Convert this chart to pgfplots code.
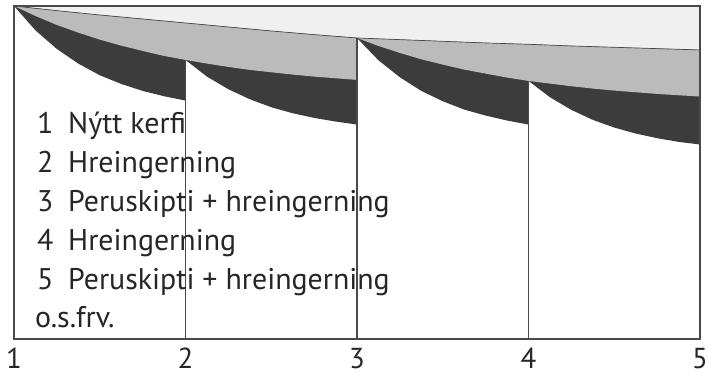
\documentclass[border=0pt]{standalone}
\usepackage{fontspec}
\setmainfont{PT Sans}
\usepackage{pgfplots}
\pgfplotsset{compat=1.18}
\definecolor{lightband}{HTML}{F0F0F0}
\definecolor{midband}{HTML}{BBBBBB}
\definecolor{darkband}{HTML}{3C3C3C}
\definecolor{frame}{HTML}{4A4A4A}
\begin{document}
\begin{tikzpicture}
\begin{axis}[
  scale only axis,
  width=686bp, height=333bp,
  xmin=1, xmax=5, ymin=0, ymax=100,
  axis on top,
  axis line style={draw=frame, line width=1.2bp},
  ytick=\empty,
  xtick={1,2,3,4,5},
  xticklabels={1,2,3,4,5},
  major tick length=0pt,
  xticklabel style={font=\fontsize{29}{34}\selectfont, text=black!85, anchor=north, inner sep=0pt, text depth=0pt, yshift=-9bp},
]
% light band: box top down to the top line
\addplot[fill=lightband, draw=none] coordinates {
 (1,100) (1.25,98.6) (1.5,97.3) (1.75,96.1) (2,94.9) (2.25,93.7) (2.5,92.5) (2.75,91.4)
 (3,90.4) (3.25,89.9) (3.5,89.4) (3.75,88.9) (4,88.5) (4.25,88.0) (4.5,87.6) (4.75,87.2) (5,86.8)
 (5,100)} -- cycle;
% dark band: top line down to dark (sawtooth) bottom
\addplot[fill=darkband, draw=none] coordinates {
 (1,100) (1.25,98.6) (1.5,97.3) (1.75,96.1) (2,94.9) (2.25,93.7) (2.5,92.5) (2.75,91.4)
 (3,90.4) (3.25,89.9) (3.5,89.4) (3.75,88.9) (4,88.5) (4.25,88.0) (4.5,87.6) (4.75,87.2) (5,86.8)
 (5,58.4) (4.875,59.2) (4.75,60.3) (4.625,61.7) (4.5,63.5) (4.375,65.8) (4.25,68.8) (4.125,72.6) (4,77.5)
 (4,64.4) (3.875,65.6) (3.75,67.1) (3.625,68.9) (3.5,71.4) (3.375,74.5) (3.25,78.6) (3.125,83.7) (3,90.4)
 (3,64.4) (2.875,65.3) (2.75,66.4) (2.625,67.8) (2.5,69.6) (2.375,72.0) (2.25,75.0) (2.125,78.8) (2,83.8)
 (2,71.6) (1.875,72.9) (1.75,74.5) (1.625,76.6) (1.5,79.2) (1.375,82.7) (1.25,87.1) (1.125,92.7) (1,100)} -- cycle;
% medium band: top line down to medium bottom
\addplot[fill=midband, draw=none] coordinates {
 (1,100) (1.25,98.6) (1.5,97.3) (1.75,96.1) (2,94.9) (2.25,93.7) (2.5,92.5) (2.75,91.4)
 (3,90.4) (3.25,89.9) (3.5,89.4) (3.75,88.9) (4,88.5) (4.25,88.0) (4.5,87.6) (4.75,87.2) (5,86.8)
 (5,72.8) (4.875,73.2) (4.75,73.6) (4.625,74.1) (4.5,74.6) (4.375,75.2) (4.25,75.9) (4.125,76.7)
 (4,77.5) (3.875,78.5) (3.75,79.7) (3.625,80.9) (3.5,82.4) (3.375,84.0) (3.25,85.9) (3.125,88.0) (3,90.4)
 (3,77.8) (2.875,78.3) (2.75,78.8) (2.625,79.4) (2.5,80.1) (2.375,80.8) (2.25,81.7) (2.125,82.7)
 (2,83.8) (1.875,85.0) (1.75,86.5) (1.625,88.1) (1.5,89.9) (1.375,92.0) (1.25,94.3) (1.125,97.0) (1,100)} -- cycle;
% boundary line between light and medium
\addplot[draw=frame, line width=0.7bp] coordinates {
 (1,100) (1.25,98.6) (1.5,97.3) (1.75,96.1) (2,94.9) (2.25,93.7) (2.5,92.5) (2.75,91.4)
 (3,90.4) (3.25,89.9) (3.5,89.4) (3.75,88.9) (4,88.5) (4.25,88.0) (4.5,87.6) (4.75,87.2) (5,86.8)};
% vertical lines at the interventions
\addplot[draw=frame, line width=0.9bp] coordinates {(2,83.8) (2,0)};
\addplot[draw=frame, line width=1.1bp] coordinates {(3,90.4) (3,0)};
\addplot[draw=frame, line width=0.9bp] coordinates {(4,77.5) (4,0)};
% legend text
\begin{scope}[every node/.style={anchor=base west, inner sep=0pt, text=black!85, font=\fontsize{30}{36}\selectfont}]
\node at (axis cs:1.134,61.6) {1};
\node at (axis cs:1.315,61.6) {Nýtt kerfi};
\node at (axis cs:1.134,50.0) {2};
\node at (axis cs:1.315,50.0) {Hreingerning};
\node at (axis cs:1.134,38.4) {3};
\node at (axis cs:1.315,38.4) {Peruskipti + hreingerning};
\node at (axis cs:1.134,26.7) {4};
\node at (axis cs:1.315,26.7) {Hreingerning};
\node at (axis cs:1.134,15.0) {5};
\node at (axis cs:1.315,15.0) {Peruskipti + hreingerning};
\node at (axis cs:1.122,3.6) {o.s.frv.};
\end{scope}
\end{axis}
\useasboundingbox ([xshift=-14bp,yshift=-38bp]current axis.south west) rectangle ([xshift=9bp,yshift=6bp]current axis.north east);
\end{tikzpicture}
\end{document}
